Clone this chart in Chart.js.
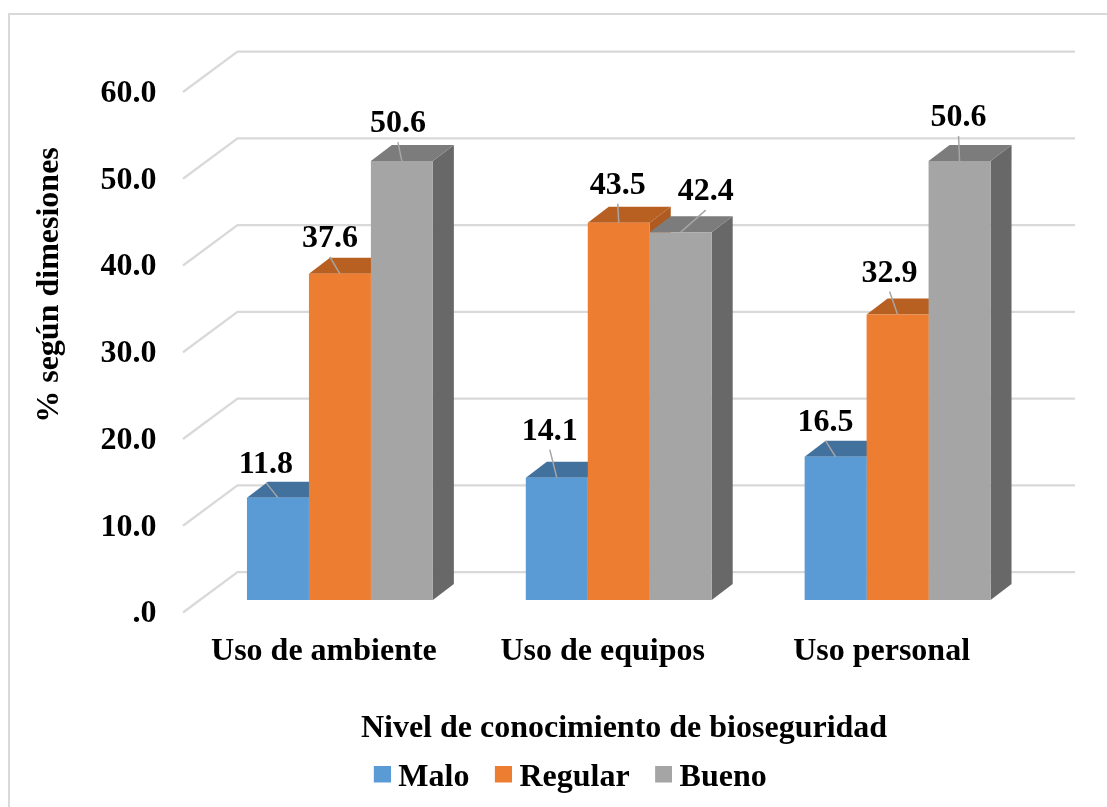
<!DOCTYPE html>
<html>
<head>
<meta charset="utf-8">
<title>Nivel de conocimiento de bioseguridad</title>
<script src="https://cdn.jsdelivr.net/npm/chart.js@4"></script>
<style>
  html, body { margin: 0; padding: 0; background: #fff; }
  canvas { display: block; }
</style>
</head>
<body>
<canvas id="graphCanvas" width="1107" height="807"></canvas>
<script>
const categories = ['Uso de ambiente', 'Uso de equipos', 'Uso personal'];
const malo = [11.8, 14.1, 16.5];
const regular = [37.6, 43.5, 32.9];
const bueno = [50.6, 42.4, 50.6];
const yTickLabels = ['.0', '10.0', '20.0', '30.0', '40.0', '50.0', '60.0'];

// where each data label sits, measured from the top centre of its bar
const labelShift = [
  [[-12, -36], [-7, -49], [-10, -37]],
  [[-10, -38], [-1, -40], [-8, -44]],
  [[-4, -40], [25, -43], [-1, -46]]
];

const FONT = 'bold 32px "Liberation Serif"';
const GRID = '#D9D9D9';

// 3D look: floor front edge, back wall and bar depth, relative to the bar plane
const WALL_FRONT = [-17.5, 12.5];
const WALL_BACK = [37, -28];
const BAR_DEPTH = [21, -16];

const faces = [
  { front: '#5B9BD5', top: '#41719C', side: '#3A6A95' },
  { front: '#ED7D31', top: '#B85F22', side: '#AE5A21' },
  { front: '#A5A5A5', top: '#7C7C7C', side: '#686868' }
];

function poly(ctx, pts, color) {
  ctx.fillStyle = color;
  ctx.beginPath();
  pts.forEach((p, i) => i ? ctx.lineTo(p[0], p[1]) : ctx.moveTo(p[0], p[1]));
  ctx.closePath();
  ctx.fill();
}

const scene3d = {
  id: 'scene3d',
  // legend is not centred on the canvas in the original
  afterLayout(chart) {
    chart.legend.left += 7;
    chart.legend.right += 7;
  },
  beforeDatasetsDraw(chart) {
    const ctx = chart.ctx;
    const { x, y } = chart.scales;
    ctx.save();

    // outer frame, only top and left show in the picture
    ctx.strokeStyle = GRID;
    ctx.lineWidth = 2;
    ctx.beginPath();
    ctx.moveTo(9, 807);
    ctx.lineTo(9, 14);
    ctx.lineTo(1107, 14);
    ctx.stroke();

    // walls
    ctx.lineWidth = 2.25;
    y.ticks.forEach(t => {
      const py = y.getPixelForValue(t.value);
      ctx.beginPath();
      ctx.moveTo(x.left + WALL_FRONT[0], py + WALL_FRONT[1]);
      ctx.lineTo(x.left + WALL_BACK[0], py + WALL_BACK[1]);
      ctx.lineTo(x.right + WALL_BACK[0] + 1, py + WALL_BACK[1]);
      ctx.stroke();
    });

    // top and side of the bars, the fronts come from Chart.js afterwards
    const [dx, dy] = BAR_DEPTH;
    categories.forEach((c, i) => {
      chart.data.datasets.forEach((d, s) => {
        const bar = chart.getDatasetMeta(s).data[i];
        const l = bar.x - bar.width / 2;
        const r = bar.x + bar.width / 2;
        poly(ctx, [[r, bar.y], [r + dx, bar.y + dy], [r + dx, bar.base + dy], [r, bar.base]], faces[s].side);
        poly(ctx, [[l, bar.y], [l + dx, bar.y + dy], [r + dx, bar.y + dy], [r, bar.y]], faces[s].top);
      });
    });
    ctx.restore();
  },
  afterDatasetsDraw(chart) {
    const ctx = chart.ctx;
    ctx.save();
    ctx.font = FONT;
    ctx.textAlign = 'center';
    ctx.textBaseline = 'middle';
    chart.data.datasets.forEach((d, s) => {
      chart.getDatasetMeta(s).data.forEach((bar, i) => {
        const [sx, sy] = labelShift[s][i];
        ctx.strokeStyle = '#A6A6A6';
        ctx.lineWidth = 1.5;
        ctx.beginPath();
        ctx.moveTo(bar.x, bar.y);
        ctx.lineTo(bar.x + sx, bar.y + sy + 21);
        ctx.stroke();
        ctx.fillStyle = '#000';
        ctx.fillText(d.data[i].toFixed(1), bar.x + sx, bar.y + sy + 3);
      });
    });

    // axis titles
    ctx.fillText('Nivel de conocimiento de bioseguridad', 624, 729);
    ctx.translate(50, 285);
    ctx.rotate(-Math.PI / 2);
    ctx.fillText('% según dimesiones', 0, 0);
    ctx.restore();
  }
};

// swatch sits off centre in a transparent canvas so it lands beside the text like the original
function legendSwatch(color) {
  const c = document.createElement('canvas');
  c.width = 25;
  c.height = 25;
  const g = c.getContext('2d');
  g.fillStyle = color;
  g.fillRect(8, 0, 17, 17);
  return c;
}

const ctx = document.getElementById('graphCanvas');

new Chart(ctx, {
  type: 'bar',
  data: {
    labels: categories,
    datasets: [
      { label: 'Malo', data: malo, backgroundColor: faces[0].front },
      { label: 'Regular', data: regular, backgroundColor: faces[1].front },
      { label: 'Bueno', data: bueno, backgroundColor: faces[2].front }
    ]
  },
  plugins: [scene3d],
  options: {
    responsive: false,
    animation: false,
    layout: { padding: { top: 79.5, right: 70, left: 90, bottom: 3 } },
    datasets: { bar: { barPercentage: 1, categoryPercentage: 0.6667, borderWidth: 0 } },
    plugins: {
      tooltip: { enabled: false },
      legend: {
        position: 'bottom',
        labels: {
          color: '#000',
          font: { family: 'Liberation Serif', weight: 'bold', size: 32 },
          usePointStyle: true,
          pointStyleWidth: 8,
          padding: 26,
          generateLabels(chart) {
            const items = Chart.defaults.plugins.legend.labels.generateLabels(chart);
            items.forEach((it, i) => { it.pointStyle = legendSwatch(faces[i].front); });
            return items;
          }
        }
      }
    },
    scales: {
      x: {
        afterFit(s) { s.height = 807 - 600 - 3 - s.chart.legend.height; },
        grid: { display: false, drawTicks: false },
        border: { display: false },
        ticks: {
          color: '#000',
          font: { family: 'Liberation Serif', weight: 'bold', size: 32 },
          padding: 33,
          labelOffset: -16,
          maxRotation: 0,
          autoSkip: false
        }
      },
      y: {
        min: 0,
        max: 60,
        afterFit(s) { s.width = 200.5 - 90; },
        grid: { display: false, drawTicks: false },
        border: { display: false },
        ticks: {
          stepSize: 10,
          color: '#000',
          font: { family: 'Liberation Serif', weight: 'bold', size: 32 },
          padding: 44,
          labelOffset: 14,
          callback: (v, i) => yTickLabels[i]
        }
      }
    }
  }
});
</script>
</body>
</html>
